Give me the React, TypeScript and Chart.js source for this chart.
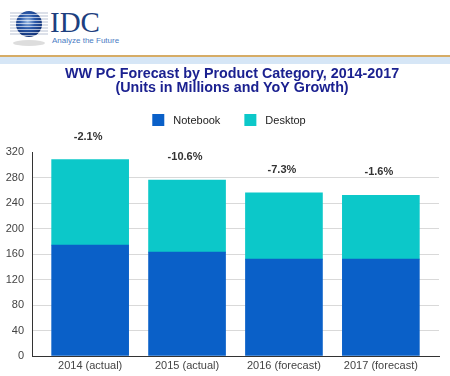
import React, { useEffect, useRef } from 'react';
import { Chart, registerables } from 'chart.js';

Chart.register(...registerables);

const categories = ['2014 (actual)', '2015 (actual)', '2016 (forecast)', '2017 (forecast)'];
const seriesNames = ['Notebook', 'Desktop'];
const seriesColors = ['#0a60c8', '#0cc8c9'];
const notebook = [174, 163, 152, 152];
const desktop = [134, 113, 104, 100];
const growth = ['-2.1%', '-10.6%', '-7.3%', '-1.6%'];
const titleLines = ['WW PC Forecast by Product Category, 2014-2017', '(Units in Millions and YoY Growth)'];

const FONT = '"Liberation Sans", Arial, sans-serif';

const growthPlugin = {
  id: 'growthLabels',
  afterDatasetsDraw(chart: any) {
    const { ctx, scales } = chart;
    const x = scales.x;
    const y = scales.y;
    ctx.save();
    ctx.font = 'bold 11px ' + FONT;
    ctx.fillStyle = '#333';
    ctx.textAlign = 'center';
    ctx.textBaseline = 'middle';
    growth.forEach((g, i) => {
      const total = notebook[i] + desktop[i];
      ctx.fillText(g, x.getPixelForValue(i) - 2, y.getPixelForValue(total) - 23);
    });
    ctx.restore();
  },
};

const headerPlugin = {
  id: 'titleAndLegend',
  afterDraw(chart: any) {
    const { ctx } = chart;
    ctx.save();
    // title
    ctx.font = 'bold 14.3px ' + FONT;
    ctx.fillStyle = '#1b2190';
    ctx.textAlign = 'center';
    ctx.textBaseline = 'middle';
    titleLines.forEach((t, i) => {
      ctx.fillText(t, chart.width / 2 + 7, 10.5 + i * 14);
    });
    // legend
    ctx.font = '11px ' + FONT;
    const box = 12;
    const gapText = 9;
    const gapItem = 24;
    const widths = titleLines.length ? seriesNames.map((n) => ctx.measureText(n).width) : [];
    const total = widths.reduce((a, w) => a + box + gapText + w, 0) + gapItem * (seriesNames.length - 1);
    let x = (chart.width - total) / 2 + 4;
    const cy = 56;
    ctx.textBaseline = 'middle';
    ctx.textAlign = 'left';
    seriesNames.forEach((n, i) => {
      ctx.fillStyle = seriesColors[i];
      ctx.fillRect(x, cy - box / 2, box, box);
      ctx.fillStyle = '#222';
      ctx.fillText(n, x + box + gapText, cy + 0.5);
      x += box + gapText + widths[i] + gapItem;
    });
    ctx.restore();
  },
};

function ChartCanvas() {
  const ref = useRef<HTMLCanvasElement>(null);
  useEffect(() => {
    if (!ref.current) return;
    const chart = new Chart(ref.current, {
      type: 'bar',
      data: {
        datasets: [
          {
            label: seriesNames[0],
            data: notebook.map((v, i) => ({ x: i, y: v })) as any,
            backgroundColor: seriesColors[0],
            barThickness: 77,
          },
          {
            label: seriesNames[1],
            data: desktop.map((v, i) => ({ x: i, y: v })) as any,
            backgroundColor: seriesColors[1],
            barThickness: 77,
          },
        ],
      },
      options: {
        animation: false,
        responsive: false,
        devicePixelRatio: 1,
        events: [],
        layout: { padding: 0 },
        scales: {
          x: {
            type: 'linear',
            stacked: true,
            offset: false,
            min: -0.6,
            max: 3.6,
            grid: { display: false, drawTicks: false, offset: false },
            border: { display: true, color: '#333', width: 1 },
            afterBuildTicks: (s: any) => {
              s.ticks = categories.map((_, i) => ({ value: i }));
            },
            afterFit: (s: any) => {
              s.height = 20;
            },
            ticks: {
              callback: (v: any) => categories[v] ?? '',
              padding: 3,
              color: '#444',
              font: { size: 11, family: FONT },
              maxRotation: 0,
              autoSkip: false,
            },
          },
          y: {
            stacked: true,
            min: 0,
            max: 320,
            ticks: { stepSize: 40, padding: 8, color: '#444', font: { size: 11, family: FONT } },
            grid: {
              color: (c: any) => (c.tick && c.tick.value === 320 ? 'rgba(0,0,0,0)' : '#d9d9d9'),
              drawTicks: false,
            },
            border: { display: true, color: '#333', width: 1 },
            afterFit: (s: any) => {
              s.width = 32;
            },
          },
          yRight: {
            type: 'linear',
            position: 'right',
            grid: { display: false },
            border: { display: false },
            ticks: { display: false },
            afterFit: (s: any) => {
              s.width = 11;
            },
          },
          xTop: {
            type: 'linear',
            position: 'top',
            grid: { display: false },
            border: { display: false },
            ticks: { display: false },
            afterFit: (s: any) => {
              s.height = 88;
            },
          },
        } as any,
        plugins: {
          title: { display: false },
          legend: { display: false },
          tooltip: { enabled: false },
        },
      },
      plugins: [growthPlugin, headerPlugin],
    });
    return () => chart.destroy();
  }, []);
  return <canvas ref={ref} width={450} height={312} style={{ display: 'block', width: 450, height: 312 }} />;
}

function Logo() {
  const stripes = [13, 16, 19, 22, 25, 28, 31, 34];
  return (
    <svg width="130" height="52" style={{ position: 'absolute', left: 0, top: 0 }}>
      <defs>
        <radialGradient id="globeG" cx="0.45" cy="0.4" r="0.65">
          <stop offset="0" stopColor="#9dbde6" />
          <stop offset="0.45" stopColor="#2a58a8" />
          <stop offset="1" stopColor="#0f2c6e" />
        </radialGradient>
      </defs>
      <ellipse cx="29" cy="43" rx="16" ry="3" fill="#bbb" opacity="0.5" />
      {stripes.map((y) => (
        <line key={'b' + y} x1="10" x2="48" y1={y} y2={y} stroke="#8a9bb8" strokeWidth="1" opacity="0.6" />
      ))}
      <circle cx="29" cy="24" r="13" fill="url(#globeG)" />
      {stripes.map((y) => (
        <line key={'w' + y} x1="15" x2="43" y1={y + 1.5} y2={y + 1.5} stroke="#ffffff" strokeWidth="0.8" opacity="0.8" />
      ))}
    </svg>
  );
}

export default function App() {
  return (
    <div style={{ position: 'fixed', left: 0, top: 0, width: 450, height: 376, background: '#fff', overflow: 'hidden' }}>
      <Logo />
      <div
        style={{
          position: 'absolute',
          left: 50,
          top: 8,
          fontFamily: '"Liberation Serif", "Times New Roman", serif',
          fontSize: 29,
          lineHeight: '29px',
          color: '#1d3f7f',
        }}
      >
        IDC
      </div>
      <div
        style={{
          position: 'absolute',
          left: 52,
          top: 37,
          fontFamily: FONT,
          fontSize: 8,
          lineHeight: '8px',
          color: '#4a7cc4',
          whiteSpace: 'nowrap',
        }}
      >
        Analyze the Future
      </div>
      <div style={{ position: 'absolute', left: 0, top: 55, width: 450, height: 2, background: '#d6ac66' }} />
      <div style={{ position: 'absolute', left: 0, top: 57, width: 450, height: 7, background: '#d6e6f6' }} />
      <div style={{ position: 'absolute', left: 0, top: 64 }}>
        <ChartCanvas />
      </div>
    </div>
  );
}
